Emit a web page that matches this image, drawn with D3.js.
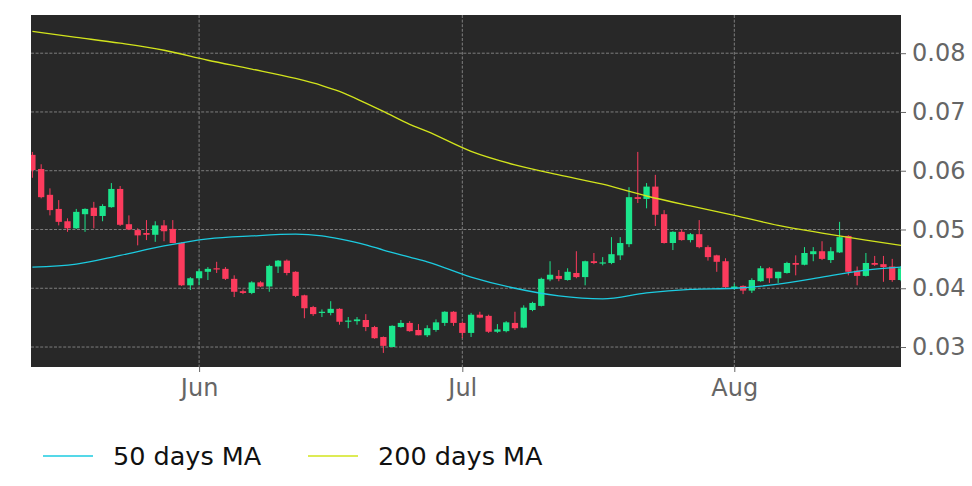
<!DOCTYPE html>
<html>
<head>
<meta charset="utf-8">
<script src="https://cdn.jsdelivr.net/npm/d3@7"></script>
<style>
  html, body { margin: 0; padding: 0; background: #ffffff; }
  svg { display: block; font-family: "DejaVu Sans", sans-serif; }
</style>
</head>
<body>
<div id="chart"></div>
<script>
'use strict';

// daily candles, May 13 - Aug 20
const firstDay = new Date(Date.UTC(2023, 4, 13));
const lastDay = new Date(Date.UTC(2023, 7, 20));

const opens = [
  0.0627, 0.0603, 0.0559, 0.0535, 0.0514, 0.0502, 0.0526, 0.0537, 0.0523, 0.0538,
  0.0569, 0.0509, 0.0499, 0.0494, 0.0491, 0.0507, 0.0501, 0.0477, 0.0405, 0.0417,
  0.0428, 0.0434, 0.0433, 0.0416, 0.0395, 0.0392, 0.0410, 0.0403, 0.0437, 0.0447,
  0.0428, 0.0388, 0.0368, 0.0358, 0.0358, 0.0365, 0.0343, 0.0344, 0.0346, 0.0334,
  0.0317, 0.0300, 0.0334, 0.0341, 0.0329, 0.0320, 0.0329, 0.0341, 0.0360, 0.0341,
  0.0324, 0.0355, 0.0353, 0.0326, 0.0327, 0.0341, 0.0333, 0.0363, 0.0370, 0.0415,
  0.0421, 0.0414, 0.0426, 0.0419, 0.0446, 0.0443, 0.0443, 0.0456, 0.0475, 0.0555,
  0.0552, 0.0573, 0.0526, 0.0477, 0.0496, 0.0482, 0.0492, 0.0470, 0.0456, 0.0446,
  0.0400, 0.0404, 0.0396, 0.0412, 0.0434, 0.0417, 0.0426, 0.0443, 0.0440, 0.0458,
  0.0463, 0.0448, 0.0461, 0.0489, 0.0430, 0.0421, 0.0443, 0.0441, 0.0437, 0.0414
];
const highs = [
  0.0632, 0.0611, 0.0570, 0.0550, 0.0519, 0.0535, 0.0536, 0.0547, 0.0543, 0.0579,
  0.0574, 0.0524, 0.0502, 0.0516, 0.0514, 0.0516, 0.0516, 0.0478, 0.0419, 0.0433,
  0.0436, 0.0445, 0.0436, 0.0422, 0.0398, 0.0412, 0.0412, 0.0440, 0.0448, 0.0449,
  0.0429, 0.0389, 0.0370, 0.0364, 0.0378, 0.0366, 0.0351, 0.0351, 0.0356, 0.0336,
  0.0318, 0.0337, 0.0346, 0.0344, 0.0339, 0.0337, 0.0347, 0.0361, 0.0361, 0.0343,
  0.0358, 0.0360, 0.0355, 0.0339, 0.0344, 0.0360, 0.0371, 0.0377, 0.0418, 0.0446,
  0.0431, 0.0434, 0.0463, 0.0447, 0.0460, 0.0453, 0.0487, 0.0487, 0.0572, 0.0632,
  0.0579, 0.0593, 0.0533, 0.0497, 0.0500, 0.0494, 0.0516, 0.0473, 0.0457, 0.0451,
  0.0408, 0.0405, 0.0417, 0.0438, 0.0436, 0.0428, 0.0445, 0.0456, 0.0470, 0.0470,
  0.0480, 0.0470, 0.0513, 0.0490, 0.0437, 0.0460, 0.0455, 0.0455, 0.0450, 0.0438
];
const lows = [
  0.0588, 0.0553, 0.0524, 0.0507, 0.0496, 0.0501, 0.0496, 0.0502, 0.0514, 0.0537,
  0.0506, 0.0499, 0.0473, 0.0482, 0.0479, 0.0480, 0.0477, 0.0404, 0.0397, 0.0405,
  0.0414, 0.0426, 0.0414, 0.0385, 0.0390, 0.0390, 0.0402, 0.0394, 0.0426, 0.0422,
  0.0385, 0.0349, 0.0353, 0.0351, 0.0354, 0.0338, 0.0332, 0.0338, 0.0327, 0.0314,
  0.0290, 0.0300, 0.0333, 0.0326, 0.0320, 0.0317, 0.0326, 0.0336, 0.0336, 0.0315,
  0.0317, 0.0349, 0.0324, 0.0324, 0.0325, 0.0329, 0.0332, 0.0361, 0.0369, 0.0412,
  0.0412, 0.0413, 0.0417, 0.0405, 0.0441, 0.0439, 0.0441, 0.0448, 0.0470, 0.0545,
  0.0536, 0.0506, 0.0476, 0.0465, 0.0481, 0.0478, 0.0468, 0.0447, 0.0428, 0.0400,
  0.0397, 0.0390, 0.0392, 0.0411, 0.0409, 0.0409, 0.0425, 0.0422, 0.0439, 0.0446,
  0.0448, 0.0443, 0.0460, 0.0422, 0.0405, 0.0420, 0.0438, 0.0411, 0.0411, 0.0412
];
const closes = [
  0.0601, 0.0555, 0.0533, 0.0513, 0.0502, 0.0530, 0.0535, 0.0523, 0.0540, 0.0569,
  0.0508, 0.0500, 0.0490, 0.0491, 0.0507, 0.0497, 0.0477, 0.0405, 0.0417, 0.0429,
  0.0433, 0.0432, 0.0416, 0.0394, 0.0392, 0.0410, 0.0403, 0.0438, 0.0447, 0.0426,
  0.0387, 0.0366, 0.0356, 0.0360, 0.0365, 0.0343, 0.0345, 0.0347, 0.0334, 0.0315,
  0.0302, 0.0336, 0.0341, 0.0327, 0.0320, 0.0332, 0.0342, 0.0360, 0.0341, 0.0324,
  0.0355, 0.0350, 0.0326, 0.0330, 0.0342, 0.0332, 0.0367, 0.0375, 0.0416, 0.0423,
  0.0416, 0.0428, 0.0419, 0.0446, 0.0443, 0.0444, 0.0458, 0.0477, 0.0555, 0.0552,
  0.0573, 0.0525, 0.0477, 0.0496, 0.0482, 0.0492, 0.0470, 0.0453, 0.0445, 0.0402,
  0.0403, 0.0396, 0.0414, 0.0434, 0.0417, 0.0428, 0.0443, 0.0440, 0.0460, 0.0463,
  0.0450, 0.0463, 0.0487, 0.0428, 0.0421, 0.0443, 0.0440, 0.0436, 0.0414, 0.0434
];

const maIndex = [0, 5, 10, 15, 20, 25, 30, 33, 35, 38, 40, 43, 45, 50, 55, 60, 65, 70, 75, 80, 85, 90, 95, 99];
const ma50 = [
  0.0436, 0.0441, 0.0456, 0.0472, 0.0484, 0.0489, 0.0492, 0.0489, 0.0484, 0.0474,
  0.0465, 0.0453, 0.0445, 0.0419, 0.0400, 0.0387, 0.0382, 0.0392, 0.0398, 0.0400,
  0.0407, 0.0419, 0.0431, 0.0436
];
const ma200 = [
  0.0837, 0.0827, 0.0817, 0.0805, 0.0788, 0.0773, 0.0757, 0.0745, 0.0735, 0.0715,
  0.0701, 0.0679, 0.0667, 0.0633, 0.0610, 0.0593, 0.0577, 0.0557, 0.0540, 0.0524,
  0.0507, 0.0494, 0.0482, 0.0473
];

const yTicks = [0.03, 0.04, 0.05, 0.06, 0.07, 0.08];
const monthTicks = [new Date(Date.UTC(2023, 5, 1)), new Date(Date.UTC(2023, 6, 1)), new Date(Date.UTC(2023, 7, 1))];
const legendLabels = ['50 days MA', '200 days MA'];

const upColor = '#1be58c';
const downColor = '#fc3b5d';
const ma50Color = '#1ccbe0';
const ma200Color = '#d2e41c';

const days = d3.utcDay.range(firstDay, d3.utcDay.offset(lastDay, 1));
const candles = days.map((d, i) => ({
  date: d, open: opens[i], high: highs[i], low: lows[i], close: closes[i]
}));

const width = 972, height = 486;
const plot = {left: 31, right: 901, top: 15, bottom: 367};

const svg = d3.select('#chart')
  .append('svg')
    .attr('width', width)
    .attr('height', height);

const dayMs = 864e5;
const x = d3.scaleUtc()
  .domain([new Date(firstDay.getTime() - 0.16 * dayMs), lastDay])
  .range([plot.left, plot.right]);

const y = d3.scaleLinear()
  .domain([0.0266, 0.0865])
  .range([plot.bottom, plot.top]);

// plot background
svg.append('rect')
  .attr('x', plot.left)
  .attr('y', plot.top)
  .attr('width', plot.right - plot.left)
  .attr('height', plot.bottom - plot.top)
  .attr('fill', '#282828');

svg.append('clipPath')
    .attr('id', 'clip')
  .append('rect')
    .attr('x', plot.left)
    .attr('y', plot.top)
    .attr('width', plot.right - plot.left)
    .attr('height', plot.bottom - plot.top);

// grid
const grid = svg.append('g')
  .attr('stroke', '#b0b0b0')
  .attr('stroke-width', 0.8)
  .attr('stroke-dasharray', '3,1.6')
  .attr('opacity', 0.8);
grid.selectAll('line.h')
  .data(yTicks)
  .join('line')
    .attr('x1', plot.left)
    .attr('x2', plot.right)
    .attr('y1', d => y(d))
    .attr('y2', d => y(d));
grid.selectAll('line.v')
  .data(monthTicks)
  .join('line')
    .attr('x1', d => x(d))
    .attr('x2', d => x(d))
    .attr('y1', plot.top)
    .attr('y2', plot.bottom);

// candles
const bodyW = 6.3;
const cg = svg.append('g').attr('clip-path', 'url(#clip)');
const candle = cg.selectAll('g')
  .data(candles)
  .join('g')
    .attr('fill', d => d.close >= d.open ? upColor : downColor)
    .attr('stroke', d => d.close >= d.open ? upColor : downColor);
candle.append('line')
  .attr('x1', d => x(d.date))
  .attr('x2', d => x(d.date))
  .attr('y1', d => y(d.high))
  .attr('y2', d => y(d.low))
  .attr('stroke-width', 1);
candle.append('rect')
  .attr('x', d => x(d.date) - bodyW / 2)
  .attr('y', d => y(Math.max(d.open, d.close)))
  .attr('width', bodyW)
  .attr('height', d => Math.max(1.2, Math.abs(y(d.open) - y(d.close))))
  .attr('stroke', 'none');

// moving averages
const maLine = d3.line()
  .x(d => x(days[d[0]]))
  .y(d => y(d[1]))
  .curve(d3.curveMonotoneX);
cg.append('path')
  .datum(maIndex.map((k, i) => [k, ma50[i]]))
  .attr('fill', 'none')
  .attr('stroke', ma50Color)
  .attr('stroke-width', 1.3)
  .attr('d', maLine);
cg.append('path')
  .datum(maIndex.map((k, i) => [k, ma200[i]]))
  .attr('fill', 'none')
  .attr('stroke', ma200Color)
  .attr('stroke-width', 1.3)
  .attr('d', maLine);

// right y axis
const yAxis = svg.append('g')
  .attr('transform', `translate(${plot.right},0)`)
  .call(d3.axisRight(y).tickValues(yTicks).tickFormat(d3.format('.2f')).tickSize(5).tickPadding(6));
yAxis.select('.domain').remove();
yAxis.selectAll('line').attr('stroke', '#666');
yAxis.selectAll('text')
  .attr('fill', '#666')
  .attr('font-size', 24)
  .attr('font-family', 'DejaVu Sans');

// bottom x axis
const xAxis = svg.append('g')
  .attr('transform', `translate(0,${plot.bottom})`)
  .call(d3.axisBottom(x).tickValues(monthTicks).tickFormat(d3.utcFormat('%b')).tickSize(5).tickPadding(7));
xAxis.select('.domain').remove();
xAxis.selectAll('line').attr('stroke', '#666');
xAxis.selectAll('text')
  .attr('fill', '#666')
  .attr('font-size', 24)
  .attr('font-family', 'DejaVu Sans');

// legend
const legend = svg.append('g');
const legendX = [43, 308];
const legendColors = [ma50Color, ma200Color];
legendLabels.forEach((label, i) => {
  legend.append('line')
    .attr('x1', legendX[i])
    .attr('x2', legendX[i] + 50)
    .attr('y1', 456)
    .attr('y2', 456)
    .attr('stroke', legendColors[i])
    .attr('stroke-width', 1.3);
  legend.append('text')
    .attr('x', legendX[i] + 70)
    .attr('y', 465)
    .attr('font-size', 25.5)
    .attr('fill', '#111')
    .text(label);
});
</script>
</body>
</html>
